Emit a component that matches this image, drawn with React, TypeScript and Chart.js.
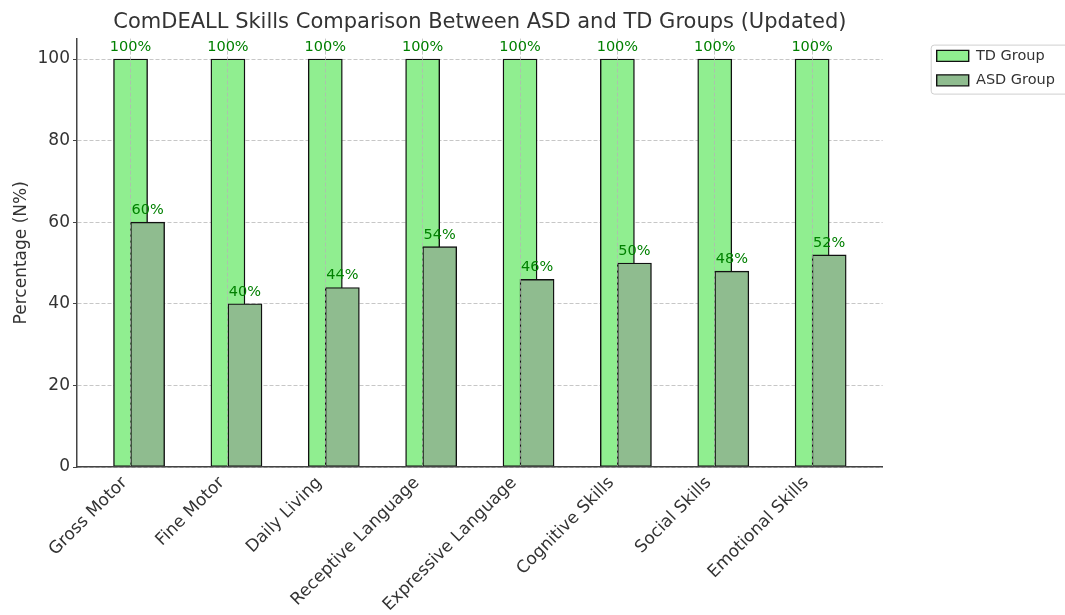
import React, { useEffect, useRef } from "react";
import { Chart, registerables } from "chart.js";

Chart.register(...registerables);

// ---- data ----
const categories = [
  "Gross Motor",
  "Fine Motor",
  "Daily Living",
  "Receptive Language",
  "Expressive Language",
  "Cognitive Skills",
  "Social Skills",
  "Emotional Skills",
];
const tdGroup = [100, 100, 100, 100, 100, 100, 100, 100];
const asdGroup = [60, 40, 44, 54, 46, 50, 48, 52];
const seriesNames = ["TD Group", "ASD Group"];

// ---- layout / style constants ----
const BAR_WIDTH = 0.35; // in category units
const ASD_SHIFT = BAR_WIDTH / 2; // ASD bar starts at the category centre
const X_MIN = -0.55;
const X_MAX = 7.725;
const Y_MAX = 105;
const Y_STEP = 20;
const LABEL_GAP = 2; // value units between bar top and its label baseline
const FONT = "'DejaVu Sans', sans-serif";
const TEXT = "#333333";
const GRID = "rgba(180,180,180,0.75)";
const SPINE = "#444444";
const EDGE = "#111111";

Chart.defaults.font.family = FONT;

// value labels drawn above every bar
const valueLabels = {
  id: "valueLabels",
  afterDraw(chart: any) {
    const { ctx } = chart;
    const yScale = chart.scales.y;
    ctx.save();
    ctx.font = `14.5px ${FONT}`;
    ctx.fillStyle = "green";
    ctx.textAlign = "center";
    ctx.textBaseline = "alphabetic";
    chart.data.datasets.forEach((ds: any, i: number) => {
      const meta = chart.getDatasetMeta(i);
      meta.data.forEach((bar: any, j: number) => {
        const v = ds.data[j].y;
        ctx.fillText(`${v}%`, bar.x, yScale.getPixelForValue(v + LABEL_GAP));
      });
    });
    ctx.restore();
  },
};

// thin rounded frame around the legend
const legendFrame = {
  id: "legendFrame",
  afterDraw(chart: any) {
    const lg = chart.legend;
    if (!lg || !lg.legendHitBoxes || !lg.legendHitBoxes.length) return;
    const boxes = lg.legendHitBoxes;
    const first = boxes[0];
    const last = boxes[boxes.length - 1];
    const x = first.left - 6;
    const y = first.top - 4;
    const h = last.top + last.height - first.top + 10;
    const ctx = chart.ctx;
    ctx.save();
    ctx.strokeStyle = "#cfcfcf";
    ctx.lineWidth = 1;
    ctx.beginPath();
    ctx.roundRect(x + 0.5, y + 0.5, 200, h, 3);
    ctx.stroke();
    ctx.restore();
  },
};

const xTickLabel = (v: any) => {
  const i = Number(v);
  return Number.isInteger(i) && categories[i] ? categories[i] : "";
};

export default function App() {
  const canvasRef = useRef<HTMLCanvasElement>(null);

  useEffect(() => {
    if (!canvasRef.current) return;
    const chart = new Chart(canvasRef.current, {
      type: "bar",
      data: {
        datasets: [
          {
            label: seriesNames[0],
            data: categories.map((_, i) => ({ x: i, y: tdGroup[i] })),
            backgroundColor: "#90EE90",
            borderColor: EDGE,
            borderWidth: 1.4,
            borderSkipped: false,
            grouped: false,
            order: 1,
          },
          {
            label: seriesNames[1],
            data: categories.map((_, i) => ({ x: i + ASD_SHIFT, y: asdGroup[i] })),
            backgroundColor: "#8FBC8F",
            borderColor: EDGE,
            borderWidth: 1.4,
            borderSkipped: false,
            grouped: false,
            order: 0,
          },
        ],
      },
      options: {
        responsive: false,
        animation: false,
        devicePixelRatio: 1,
        layout: { padding: { left: 5, right: 0, top: 0, bottom: 0 } },
        scales: {
          x: {
            type: "linear",
            position: "bottom",
            min: X_MIN,
            max: X_MAX,
            bounds: "data",
            offset: false,
            afterBuildTicks: (s: any) => {
              s.ticks = categories.map((_, i) => ({ value: i }));
            },
            afterFit: (s: any) => {
              s.height = 148;
            },
            grid: {
              color: GRID,
              lineWidth: 1,
              drawTicks: false,
              offset: false,
              z: 1,
            },
            border: { display: true, color: SPINE, width: 1.5, dash: [4, 2], z: 2 },
            ticks: {
              autoSkip: false,
              minRotation: 45,
              maxRotation: 45,
              padding: 6,
              labelOffset: -6,
              color: TEXT,
              font: { size: 17, family: FONT },
              callback: xTickLabel,
            },
          },
          y: {
            type: "linear",
            position: "left",
            min: 0,
            max: Y_MAX,
            afterFit: (s: any) => {
              s.width = 72;
            },
            grid: {
              color: GRID,
              lineWidth: 1,
              drawTicks: true,
              tickLength: 4,
              tickColor: SPINE,
              tickWidth: 1,
              tickBorderDash: [],
            },
            border: { display: true, color: SPINE, width: 1.5, dash: [4, 2] },
            ticks: {
              stepSize: Y_STEP,
              includeBounds: false,
              padding: 3,
              color: TEXT,
              font: { size: 17, family: FONT },
            },
            title: {
              display: true,
              text: "Percentage (N%)",
              color: TEXT,
              font: { size: 17, family: FONT },
              padding: { top: 6, bottom: 0 },
            },
          },
          legendGap: {
            type: "linear",
            position: "right",
            display: true,
            grid: { display: false },
            border: { display: false },
            ticks: { display: false },
            afterFit: (s: any) => {
              s.width = 44;
            },
          },
        },
        plugins: {
          title: {
            display: true,
            fullSize: false,
            text: "ComDEALL Skills Comparison Between ASD and TD Groups (Updated)",
            color: TEXT,
            font: { size: 21, weight: "normal", family: FONT },
            padding: { top: 10, bottom: 3.4 },
          },
          legend: {
            display: true,
            position: "right",
            align: "start",
            fullSize: false,
            labels: {
              boxWidth: 32,
              boxHeight: 11,
              padding: 10,
              color: TEXT,
              font: { size: 14.5, family: FONT },
              sort: (a: any, b: any) => a.datasetIndex - b.datasetIndex,
            },
          },
          tooltip: { enabled: false },
        },
      },
      plugins: [valueLabels, legendFrame],
    } as any);

    // bar thickness = BAR_WIDTH category units, measured on the x scale
    const xs: any = chart.scales.x;
    const thickness = Math.abs(xs.getPixelForValue(BAR_WIDTH) - xs.getPixelForValue(0));
    chart.data.datasets.forEach((ds: any) => {
      ds.barThickness = thickness;
    });
    chart.update();

    return () => chart.destroy();
  }, []);

  return (
    <div
      style={{
        position: "absolute",
        left: 0,
        top: 0,
        width: 1065,
        height: 615,
        background: "#ffffff",
      }}
    >
      <canvas ref={canvasRef} width={1065} height={615} style={{ display: "block" }} />
    </div>
  );
}
